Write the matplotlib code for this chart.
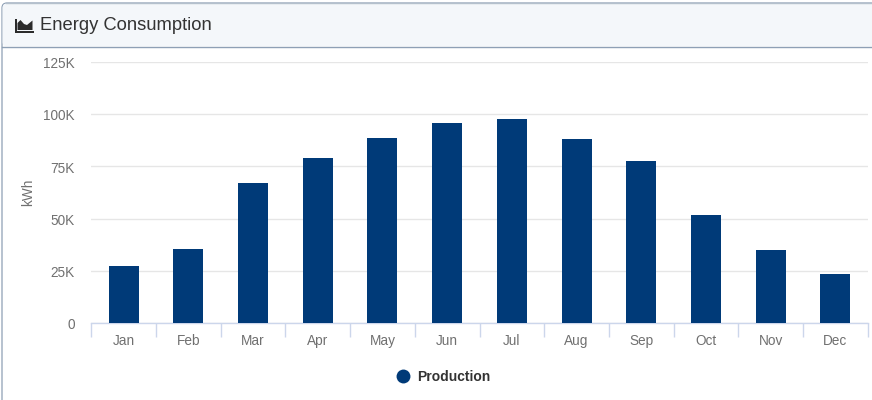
#!/usr/bin/env python3
import matplotlib
matplotlib.use('Agg')
import matplotlib.pyplot as plt
from matplotlib.patches import FancyBboxPatch, Polygon, Rectangle
from matplotlib.ticker import FuncFormatter
from matplotlib.transforms import ScaledTranslation

plt.rcParams['font.family'] = ['Liberation Sans', 'DejaVu Sans']

months = ['Jan', 'Feb', 'Mar', 'Apr', 'May', 'Jun', 'Jul', 'Aug', 'Sep', 'Oct', 'Nov', 'Dec']
production = [27300, 35500, 67200, 79200, 88800, 95800, 97900, 88000, 77500, 51500, 35200, 23700]
y_ticks = [0, 25000, 50000, 75000, 100000, 125000]

W, H = 872, 400
BAR = '#003a78'
GREY = '#707070'

fig = plt.figure(figsize=(W / 100, H / 100), dpi=100, facecolor='white')

# card + header, in pixel coords
bg = fig.add_axes([0, 0, 1, 1], zorder=0)
bg.set_xlim(0, W)
bg.set_ylim(H, 0)
bg.axis('off')
bg.add_patch(FancyBboxPatch((2, 3), W + 20, H + 20, boxstyle='round,pad=0,rounding_size=5',
                            fc='white', ec='#8ea0b5', lw=0.9))
bg.add_patch(FancyBboxPatch((2.6, 3.6), W + 20, 42.5, boxstyle='round,pad=0,rounding_size=4',
                            fc='#f4f7fa', ec='none'))
bg.plot([2, W], [46.5, 46.5], color='#8ea0b5', lw=1)
bg.plot([6, W], [3, 3], color='#b4c0cc', lw=1)

# area-chart icon
bg.add_patch(Rectangle((15, 31), 18.5, 1.6, fc='#2b2b2b', ec='none'))
bg.add_patch(Rectangle((15, 19), 1.6, 13, fc='#2b2b2b', ec='none'))
bg.add_patch(Polygon([(17.5, 30), (17.5, 23), (20.5, 20), (24, 24), (27, 25),
                      (32.5, 20.5), (32.5, 30)], fc='#2b2b2b', ec='none'))
bg.text(39.5, 25.5, 'Energy Consumption', fontsize=13.2, color='#333333', va='center', ha='left')

# plot area: x 91.2..867.8, y 62..323
ax = fig.add_axes([91.2 / W, 1 - 323 / H, (867.8 - 91.2) / W, (323 - 62) / H], zorder=1)
ax.patch.set_alpha(0)
x = list(range(len(months)))
ax.bar(x, production, width=30 / 64.7, color=BAR, zorder=3)
ax.set_xlim(-0.5, 11.5)
ax.set_ylim(0, 125000)

ax.set_yticks(y_ticks)
ax.yaxis.set_major_formatter(FuncFormatter(lambda v, p: '0' if v == 0 else f'{v / 1000:.0f}K'))
ax.grid(axis='y', color='#e6e6e6', lw=1, zorder=0)
ax.set_axisbelow(True)
ax.tick_params(axis='y', length=0, labelsize=9.8, labelcolor=GREY, pad=12)
nudge = ScaledTranslation(0, -0.5 / 72, fig.dpi_scale_trans)
for lab in ax.get_yticklabels():
    lab.set_transform(lab.get_transform() + nudge)
ax.set_ylabel('kWh', fontsize=9.8, color=GREY)
ax.yaxis.set_label_coords((35.5 - 91.2) / (867.8 - 91.2), 0.5)

ax.set_xticks([i - 0.5 for i in range(13)])
ax.set_xticklabels([])
ax.set_xticks(x, minor=True)
ax.set_xticklabels(months, minor=True)
ax.tick_params(axis='x', which='major', length=10, width=1, color='#ccd6eb')
ax.tick_params(axis='x', which='minor', length=0, labelsize=9.8, labelcolor=GREY, pad=8.2)

for s in ['top', 'right', 'left']:
    ax.spines[s].set_visible(False)
ax.spines['bottom'].set_color('#ccd6eb')
ax.spines['bottom'].set_linewidth(1)

# legend
bg.plot([403], [376], 'o', ms=10, color=BAR, mec='none')
bg.text(417.5, 377, 'Production', fontsize=10, fontweight='bold', color='#333333',
        va='center', ha='left')

fig.savefig('out.png', dpi=100, facecolor='white')
